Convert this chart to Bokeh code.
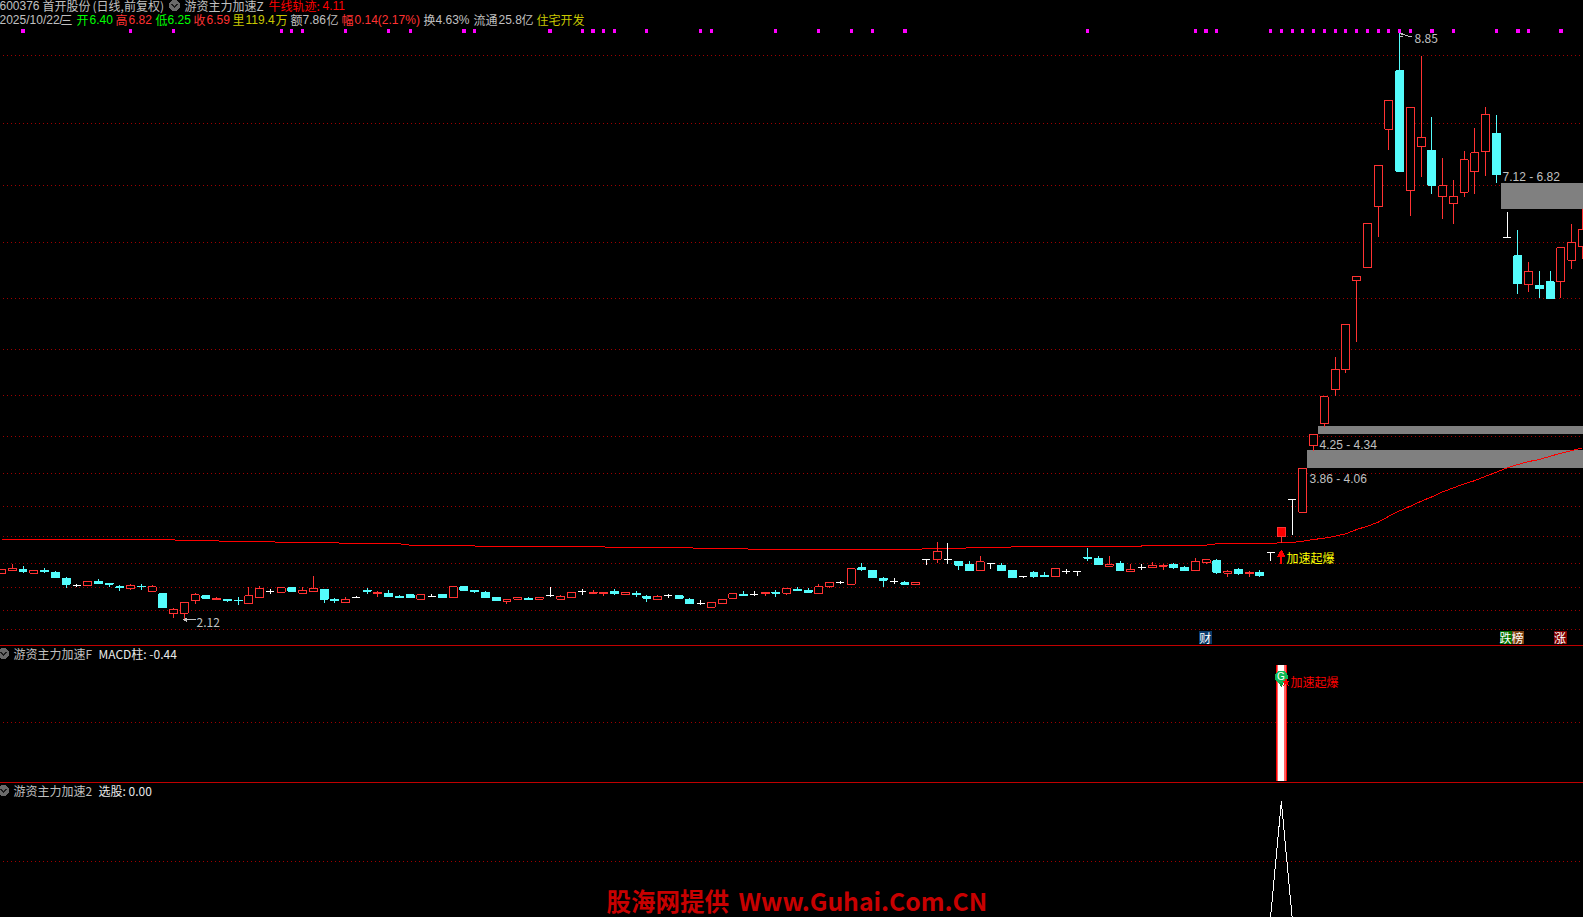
from bokeh.plotting import figure
from bokeh.layouts import column
from bokeh.models import Label, Range1d
from bokeh.embed import file_html
from bokeh.resources import INLINE

opens = [2.65,2.68,2.69,2.65,2.68,2.66,2.59,2.51,2.51,2.55,
 2.53,2.49,2.47,2.50,2.44,2.41,2.19,2.19,2.33,2.39,
 2.35,2.35,2.34,2.30,2.37,2.44,2.43,2.48,2.42,2.44,
 2.46,2.35,2.31,2.37,2.45,2.41,2.42,2.38,2.40,2.35,
 2.38,2.40,2.37,2.49,2.45,2.43,2.37,2.32,2.35,2.36,
 2.35,2.39,2.35,2.37,2.44,2.42,2.41,2.44,2.40,2.42,
 2.38,2.35,2.39,2.39,2.35,2.30,2.26,2.30,2.36,2.40,
 2.40,2.41,2.43,2.42,2.46,2.45,2.41,2.49,2.54,2.52,
 2.71,2.68,2.59,2.55,2.54,2.52,2.80,2.81,2.81,2.78,
 2.75,2.68,2.76,2.74,2.68,2.61,2.66,2.62,2.61,2.67,
 2.67,2.83,2.82,2.73,2.76,2.67,2.71,2.71,2.73,2.75,
 2.71,2.68,2.77,2.79,2.65,2.69,2.64,2.66,2.88,3.07,
 3.49,3.35,4.11,4.36,4.75,4.98,6.00,6.15,6.85,7.74,
 8.41,7.04,7.54,7.50,6.97,6.89,7.02,7.25,7.48,7.69,
 6.50,6.29,5.96,5.95,5.99,5.99,6.24,6.40]
highs = [2.69,2.75,2.73,2.69,2.71,2.67,2.60,2.53,2.56,2.58,
 2.53,2.51,2.53,2.52,2.51,2.41,2.25,2.32,2.42,2.39,
 2.38,2.35,2.37,2.49,2.50,2.47,2.49,2.49,2.49,2.62,
 2.47,2.36,2.37,2.39,2.48,2.44,2.45,2.40,2.41,2.41,
 2.41,2.41,2.49,2.50,2.46,2.44,2.38,2.35,2.37,2.38,
 2.38,2.49,2.40,2.43,2.47,2.45,2.43,2.47,2.43,2.44,
 2.40,2.40,2.41,2.39,2.36,2.34,2.31,2.35,2.41,2.44,
 2.44,2.43,2.45,2.47,2.49,2.48,2.52,2.54,2.56,2.71,
 2.76,2.68,2.60,2.59,2.56,2.54,2.80,3.01,3.00,2.78,
 2.79,2.84,2.77,2.77,2.69,2.62,2.67,2.66,2.70,2.70,
 2.67,2.94,2.84,2.85,2.79,2.75,2.75,2.78,2.75,2.77,
 2.73,2.82,2.80,2.81,2.68,2.71,2.67,2.68,2.88,3.17,
 3.49,3.85,4.24,4.67,5.13,5.50,6.05,6.66,7.33,8.07,
 8.85,7.99,8.58,7.88,7.41,7.16,7.49,7.76,7.99,7.90,
 6.79,6.58,6.22,6.11,6.11,6.38,6.65,6.82]
lows = [2.65,2.68,2.65,2.64,2.65,2.59,2.48,2.49,2.51,2.52,
 2.49,2.44,2.46,2.46,2.44,2.25,2.14,2.12,2.30,2.35,
 2.35,2.32,2.28,2.30,2.37,2.41,2.43,2.44,2.42,2.44,
 2.31,2.31,2.31,2.36,2.41,2.38,2.37,2.36,2.36,2.35,
 2.37,2.36,2.37,2.44,2.42,2.37,2.33,2.30,2.35,2.34,
 2.35,2.38,2.35,2.37,2.40,2.42,2.39,2.40,2.40,2.38,
 2.32,2.34,2.36,2.35,2.29,2.28,2.26,2.30,2.36,2.39,
 2.39,2.39,2.37,2.40,2.44,2.43,2.41,2.48,2.52,2.52,
 2.67,2.59,2.49,2.52,2.52,2.51,2.74,2.76,2.75,2.69,
 2.68,2.68,2.70,2.68,2.59,2.59,2.59,2.60,2.60,2.64,
 2.62,2.79,2.75,2.72,2.68,2.67,2.68,2.71,2.69,2.70,
 2.67,2.68,2.75,2.64,2.60,2.63,2.60,2.60,2.79,3.00,
 3.09,3.35,4.05,4.33,4.68,4.94,5.30,6.15,6.50,7.50,
 7.26,6.74,7.19,7.00,6.71,6.65,6.96,7.00,7.20,7.12,
 6.50,5.85,5.87,5.80,5.80,5.80,6.14,6.25]
closes = [2.69,2.70,2.67,2.68,2.67,2.60,2.52,2.51,2.55,2.53,
 2.52,2.48,2.51,2.49,2.49,2.25,2.23,2.31,2.40,2.36,
 2.36,2.33,2.33,2.39,2.47,2.44,2.48,2.44,2.45,2.47,
 2.35,2.33,2.35,2.37,2.44,2.43,2.38,2.37,2.37,2.40,
 2.38,2.37,2.49,2.45,2.44,2.37,2.33,2.35,2.37,2.35,
 2.37,2.39,2.38,2.43,2.44,2.43,2.43,2.42,2.43,2.40,
 2.36,2.38,2.39,2.36,2.30,2.30,2.31,2.35,2.41,2.39,
 2.40,2.43,2.42,2.47,2.45,2.43,2.49,2.54,2.54,2.70,
 2.69,2.60,2.57,2.55,2.52,2.54,2.80,2.90,2.81,2.74,
 2.68,2.78,2.76,2.68,2.60,2.61,2.61,2.61,2.70,2.67,
 2.67,2.82,2.75,2.75,2.68,2.69,2.71,2.74,2.74,2.71,
 2.68,2.78,2.80,2.66,2.67,2.64,2.66,2.62,2.88,3.17,
 3.49,3.85,4.24,4.67,4.99,5.50,6.05,6.66,7.33,8.07,
 7.26,7.99,7.65,7.10,7.09,6.97,7.39,7.47,7.91,7.22,
 6.50,5.97,6.11,5.91,5.80,6.38,6.44,6.59]
trend = [3.03,3.03,3.03,3.03,3.04,3.04,3.04,3.04,3.03,3.03,
 3.03,3.03,3.03,3.03,3.03,3.03,3.03,3.02,3.02,3.02,
 3.02,3.01,3.01,3.01,3.01,3.01,3.00,3.00,3.00,3.00,
 3.00,3.00,2.985,2.985,2.985,2.985,2.985,2.985,2.97,2.97,
 2.97,2.97,2.97,2.97,2.96,2.96,2.96,2.96,2.96,2.96,
 2.95,2.95,2.95,2.95,2.95,2.95,2.95,2.94,2.94,2.94,
 2.94,2.94,2.94,2.94,2.94,2.93,2.93,2.93,2.93,2.93,
 2.92,2.92,2.92,2.92,2.92,2.92,2.92,2.92,2.92,2.92,
 2.92,2.92,2.92,2.92,2.92,2.92,2.93,2.93,2.93,2.93,
 2.94,2.94,2.94,2.94,2.95,2.95,2.95,2.95,2.95,2.95,
 2.95,2.95,2.96,2.96,2.96,2.96,2.96,2.97,2.97,2.97,
 2.97,2.97,2.97,2.985,2.985,2.985,2.985,2.985,2.985,3.00,
 3.00,3.015,3.035,3.05,3.073,3.10,3.149,3.187,3.233,3.302,
 3.363,3.417,3.474,3.524,3.581,3.627,3.673,3.711,3.761,3.807,
 3.856,3.895,3.929,3.952,3.99,4.025,4.055,4.086]
grid_prices = [8.581,7.801,7.090,6.436,5.794,5.209,4.681,4.211,3.786,3.408,3.064,2.754,2.479,2.226,1.998]
mark_days = [2,12,16,26,27,28,32,36,38,43,44,51,54,55,56,57,60,65,66,72,76,79,81,84,101,
 111,112,113,118,119,120,121,122,123,124,125,126,127,128,129,130,131,133,135,139,141,142,145]
gap_days = [121,122,139]
gap_low = [3.86,4.25,6.82]
gap_high = [4.06,4.34,7.12]
gap_text = ["3.86 - 4.06","4.25 - 4.34","7.12 - 6.82"]
signal_day = 119
macd_grid = [0.5043]
macd_days = [119]
macd_vals = [1.0]
pick_days = [118,119,120]
pick_vals = [0.0,1.0,0.0]
pick_grid = [0.4848]

W = 1584
H1, H2, H3 = 647, 137, 134
T2, T3 = H1, H1 + H2
X0, DX = 2.0, 10.755
BG = "#000000"
RED = "#ff3232"
CYAN = "#54fcfc"
GRID = "#a00000"
GRAY = "#c0c0c0"
CJK = "Noto Sans CJK SC"

def xp(px): return (px - X0) / DX
xr = (xp(0), xp(W))

def mk(h, y0, y1):
    p = figure(width=W, height=h, x_range=Range1d(*xr), y_range=Range1d(y0, y1),
               x_axis_location=None, y_axis_location=None, toolbar_location=None,
               output_backend="svg", background_fill_color=BG, border_fill_color=BG,
               outline_line_color=None, min_border=0, min_border_left=0, min_border_right=0,
               min_border_top=0, min_border_bottom=0)
    p.grid.visible = False
    p.styles = {"shape-rendering": "crispEdges"}
    return p

# ---------- main pane: page px y = 33 + (8.85 - price)/0.01147
S = 0.01147
def yp1(py): return 8.85 - (py - 33) * S
p1 = mk(H1, yp1(H1), yp1(0))
def yp2(py):  # pane 2 : value 1 at page row 665, 0 at 781
    return (781 - py) / 116
p2 = mk(H2, yp2(T2 + H2), yp2(T2))
def yp3(py):  # pane 3 : value 1 at page row 802, 0 at 917.5
    return (917.5 - py) / 115.5
p3 = mk(H3, yp3(T3 + H3), yp3(T3))

def label(fig, top, h, px, py, text, color=GRAY, size="12px", font=CJK, style="normal", align="left"):
    fig.add_layout(Label(x=px, y=top + h - py, x_units="screen", y_units="screen", text=text,
                         text_color=color, text_font_size=size, text_font=font,
                         text_font_style=style, text_align=align, text_baseline="middle"))

def L1(*a, **k): label(p1, 0, H1, *a, **k)
def L2(*a, **k): label(p2, T2, H2, *a, **k)
def L3(*a, **k): label(p3, T3, H3, *a, **k)

def hgrid(fig, vals):
    fig.segment(x0=[xp(3)] * len(vals), x1=[xp(W)] * len(vals), y0=vals, y1=vals,
                line_color=GRID, line_width=1, line_dash="1 3")

def rule(fig, yf, row):
    fig.quad(left=[xr[0]], right=[xr[1]], top=[yf(row)], bottom=[yf(row + 1)],
             fill_color="#c00000", line_color=None)

hgrid(p1, grid_prices)

# gap bands
HW = 0.37
p1.quad(left=[d + 0.42 for d in gap_days], right=[xr[1]] * 3, bottom=gap_low, top=gap_high,
        fill_color="#808080", line_color=None)

# trend line
days = list(range(len(closes)))
p1.line(days, trend, line_color="#ff0000", line_width=1)

# candles
up_i = [i for i in days if closes[i] > opens[i]]
dn_i = [i for i in days if closes[i] < opens[i]]
fl_i = [i for i in days if closes[i] == opens[i]]
for idx, col in ((up_i, RED), (dn_i, CYAN), (fl_i, "#ffffff")):
    body_top = [max(opens[i], closes[i]) for i in idx]
    body_bot = [min(opens[i], closes[i]) for i in idx]
    p1.segment(idx, [highs[i] for i in idx], idx, body_top, line_color=col, line_width=1)
    p1.segment(idx, body_bot, idx, [lows[i] for i in idx], line_color=col, line_width=1)
    fills = ["#ff0000" if (i == signal_day) else (BG if col == RED else col) for i in idx]
    p1.quad(left=[i - HW for i in idx], right=[i + HW for i in idx], top=body_top, bottom=body_bot,
            fill_color=fills, line_color=col, line_width=1)

# magenta markers
p1.scatter(mark_days, [yp1(31.5)] * len(mark_days), marker="square", size=3.2,
           fill_color="#ff00ff", line_color=None)

# extreme callouts
hi_i = highs.index(max(highs))
lo_i = lows.index(min(lows))
p1.line([hi_i + 0.08, hi_i + 1.1], [max(highs) - 0.015, max(highs) - 0.05], line_color=GRAY, line_width=1)
p1.segment([hi_i], [max(highs) - 0.012], [hi_i + 0.35], [max(highs) - 0.012], line_color=GRAY, line_width=1)
p1.segment([hi_i], [max(highs) - 0.045], [hi_i + 0.3], [max(highs) - 0.045], line_color=GRAY, line_width=1)
L1(1415, 38.5, f"{max(highs):.2f}")
p1.line([lo_i, lo_i + 1.1], [min(lows) - 0.005, min(lows) - 0.005], line_color=GRAY, line_width=1)
p1.scatter([lo_i + 0.15], [min(lows) - 0.005], marker="triangle", size=5, angle=1.5708,
           fill_color=GRAY, line_color=None)
L1(197, 622.5, f"{min(lows):.2f}")

# gap labels
L1(1310, 479, gap_text[0], font="Liberation Sans")
L1(1320, 445, gap_text[1], font="Liberation Sans")
L1(1503, 177, gap_text[2], font="Liberation Sans")

# signal arrow + text
ax = signal_day
p1.segment([ax], [yp1(555)], [ax], [yp1(564.5)], line_color="#ff0000", line_width=2)
p1.scatter([ax], [yp1(555)], marker="triangle", size=9, fill_color="#ff0000", line_color=None)
L1(1287, 557.5, "加速起爆", color="#ffff00")

# bottom chips of the main pane
chips = [(1199.5, 1212, "#0a3a6a", "财"), (1500, 1512, "#007000", "跌"),
         (1512, 1524, "#7a4010", "榜"), (1554, 1567, "#800000", "涨")]
for a, b, c, t in chips:
    p1.quad(left=[xp(a)], right=[xp(b)], top=[yp1(631)], bottom=[yp1(644)], fill_color=c, line_color=None)
    L1((a + b) / 2, 637.5, t, color="#ffffff", align="center")

# header, row 1
def icon(fig, yf, px, py):
    fig.scatter([xp(px)], [yf(py)], marker="circle", size=11, fill_color="#6a6a6a", line_color=None)
    fig.line([xp(px - 3), xp(px), xp(px + 3)], [yf(py - 1.5), yf(py + 1.5), yf(py - 1.5)],
             line_color="#1a1a1a", line_width=1.5)

L1(0, 6, "600376", font="Liberation Sans")
L1(43, 6, "首开股份")
L1(93, 6, "(日线,前复权)")
icon(p1, yp1, 175, 6)
L1(185, 6, "游资主力加速Z")
L1(269, 6, "牛线轨迹:", color="#ff0000")
L1(323, 6, "4.11", color="#ff0000", font="Liberation Sans")

# header, row 2
GR, RD, YL = "#00ff00", RED, "#c8c800"
row2 = [(0, "2025/10/22/", GRAY), (61, "三", GRAY), (77, "开", GR), (90, "6.40", GR), (116, "高", RD), (129, "6.82", RD),
        (156, "低", GR), (168, "6.25", GR), (194, "收", RD), (207, "6.59", RD), (233, "里", YL),
        (246, "119.4", YL), (276, "万", YL), (291, "额", GRAY), (303, "7.86", GRAY), (327, "亿", GRAY),
        (342, "幅", RD), (355, "0.14(2.17%)", RD), (424, "换", GRAY), (436, "4.63%", GRAY),
        (474, "流通", GRAY), (499, "25.8", GRAY), (522, "亿", GRAY), (537, "住宅开发", YL)]
for x, t, c in row2:
    is_cjk = any(ord(ch) > 0x2e80 for ch in t)
    L1(x, 20, t, color=c, font=CJK if is_cjk else "Liberation Sans")

rule(p1, yp1, 645)

# ---------- pane 2
hgrid(p2, macd_grid)
p2.vbar(macd_days, width=11 / DX, bottom=0, top=macd_vals, fill_color="#ff0000", line_color=None)
p2.vbar(macd_days, width=9 / DX, bottom=0, top=macd_vals, fill_color="#ff6464", line_color=None)
p2.vbar(macd_days, width=6 / DX, bottom=0, top=macd_vals, fill_color="#ffffff", line_color=None)
p2.scatter([macd_days[0]], [yp2(683)], marker="inverted_triangle", size=8, fill_color="#0a9a40", line_color=None)
p2.scatter([macd_days[0]], [yp2(677.5)], marker="circle", size=13, fill_color="#10b858", line_color=None)
L2(1281.5, 676.5, "G", color="#ffffff", size="10px", font="Liberation Sans", align="center")
p2.scatter([xp(1286.5)], [yp2(682.5)], marker="star", size=9, fill_color="#ff0000", line_color=None)
L2(1291, 682, "加速起爆", color="#ff0000")
icon(p2, yp2, 4, 654)
L2(14, 654, "游资主力加速F")
L2(99, 654, "MACD柱: -0.44", color="#e8e8e8")
rule(p2, yp2, 782)

# ---------- pane 3
hgrid(p3, pick_grid)
p3.line(pick_days, pick_vals, line_color="#ffffff", line_width=1)
icon(p3, yp3, 4, 791)
L3(14, 791, "游资主力加速2")
L3(99, 791, "选股: 0.00", color="#e8e8e8")
L3(607, 900.5, "股海网提供", color="#c80000", size="24.5px", style="bold")
L3(739, 900.5, "Www.Guhai.Com.CN", color="#c80000", size="24.7px", style="bold")

root = column(p1, p2, p3, spacing=0, margin=(-1, 0, 0, -1))
root.styles = {"background-color": "#000000"}
open("out.html", "w").write(file_html(root, INLINE))
